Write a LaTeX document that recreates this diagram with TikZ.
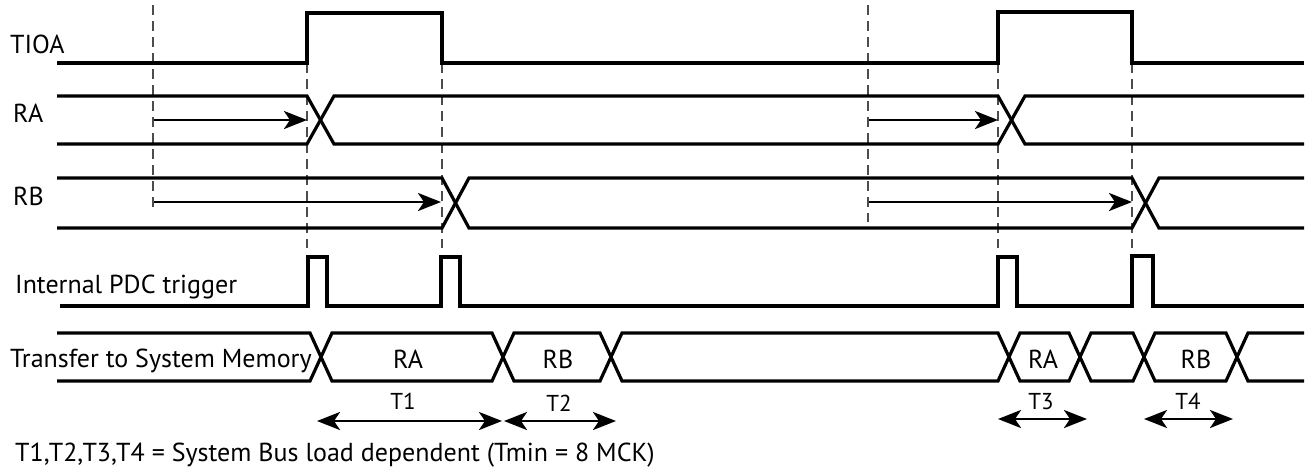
\documentclass[tikz,border=0pt]{standalone}
\usepackage{fontspec}
\setmainfont{PT Sans}
\usetikzlibrary{arrows.meta}
\begin{document}
\begin{tikzpicture}[x=1pt,y=-1pt,
  sig/.style={line width=3.2pt,line join=miter},
  guide/.style={line width=1.6pt,draw=black!70,dash pattern=on 10pt off 6pt},
  harrow/.style={line width=2.8pt,-{Stealth[length=23pt,width=18pt,inset=6pt]}},
  darrow/.style={line width=2.8pt,{Stealth[length=23pt,width=18pt,inset=6pt]}-{Stealth[length=23pt,width=18pt,inset=6pt]}},
  lbl/.style={font=\fontsize{26}{30}\selectfont,inner sep=0pt,anchor=base west},
  blbl/.style={font=\fontsize{26}{30}\selectfont,inner sep=0pt,anchor=base},
  tlbl/.style={font=\fontsize{23}{27}\selectfont,inner sep=0pt,anchor=base}]
\useasboundingbox (0,0) rectangle (1307,475);

% guide lines
\draw[guide] (153,5) -- (153,208);
\draw[guide] (868,5) -- (868,222);
\foreach \gx in {307,442,998,1132}{\draw[guide] (\gx,63) -- (\gx,248);}

% labels
\node[lbl] (lTIOA) at (10,53) {TIOA};
\node[lbl] (lRA) at (13,122) {RA};
\node[lbl] (lRB) at (13,205) {RB};
\node[lbl] (lPDC) at (15,293) {Internal PDC trigger};
\node[lbl] (lTR) at (10,367) {Transfer to System Memory};
\node[lbl] (lNote) at (15,461) {T1,T2,T3,T4 = System Bus load dependent (Tmin = 8 MCK)};

% TIOA
\draw[sig] (57,63) -- (307,63) -- (307,13) -- (442,13) -- (442,63) -- (998,63) -- (998,12) -- (1132,12) -- (1132,63) -- (1304,63);

% RA
\draw[sig] (57,96) -- (307,96) -- (334,144) -- (998,144) -- (1025,96) -- (1304,96);
\draw[sig] (57,144) -- (307,144) -- (334,96) -- (998,96) -- (1025,144) -- (1304,144);

% RB
\draw[sig] (57,178) -- (442,178) -- (469,228) -- (1132,228) -- (1159,178) -- (1304,178);
\draw[sig] (57,228) -- (442,228) -- (469,178) -- (1132,178) -- (1159,228) -- (1304,228);

% internal PDC trigger
\draw[sig] (60,306) -- (308,306) -- (308,257) -- (327,257) -- (327,306) -- (441,306) -- (441,257) -- (460,257) -- (460,306) -- (998,306) -- (998,257) -- (1017,257) -- (1017,306) -- (1132,306) -- (1132,256) -- (1153,256) -- (1153,306) -- (1304,306);

% transfer bus
\draw[sig] (57,333) -- (310,333) -- (332,381) -- (492,381) -- (514,333) -- (600,333) -- (622,381) -- (998,381) -- (1020,333) -- (1069,333) -- (1091,381) -- (1133,381) -- (1155,333) -- (1226,333) -- (1248,381) -- (1304,381);
\draw[sig] (57,381) -- (310,381) -- (332,333) -- (492,333) -- (514,381) -- (600,381) -- (622,333) -- (998,333) -- (1020,381) -- (1069,381) -- (1091,333) -- (1133,333) -- (1155,381) -- (1226,381) -- (1248,333) -- (1304,333);

\node[blbl] (bRA1) at (408,368) {RA};
\node[blbl] (bRB1) at (558,368) {RB};
\node[blbl] (bRA2) at (1043,368) {RA};
\node[blbl] (bRB2) at (1196,368) {RB};

% capture arrows
\coordinate (a1s) at (154,120); \coordinate (a1e) at (307,120);
\coordinate (a2s) at (154,202); \coordinate (a2e) at (441,202);
\coordinate (a3s) at (869,120); \coordinate (a3e) at (998,120);
\coordinate (a4s) at (869,202); \coordinate (a4e) at (1132,202);
\draw[harrow] (a1s) -- (a1e);
\draw[harrow] (a2s) -- (a2e);
\draw[harrow] (a3s) -- (a3e);
\draw[harrow] (a4s) -- (a4e);

% timing arrows
\coordinate (t1s) at (317,421); \coordinate (t1e) at (502,421);
\coordinate (t2s) at (504,421); \coordinate (t2e) at (616,421);
\coordinate (t3s) at (998,419); \coordinate (t3e) at (1087,419);
\coordinate (t4s) at (1144,419); \coordinate (t4e) at (1233,419);
\draw[darrow] (t1s) -- (t1e);
\draw[darrow] (t2s) -- (t2e);
\draw[darrow] (t3s) -- (t3e);
\draw[darrow] (t4s) -- (t4e);
\node[tlbl] (T1) at (403,409) {T1};
\node[tlbl] (T2) at (559,411) {T2};
\node[tlbl] (T3) at (1041,409) {T3};
\node[tlbl] (T4) at (1188,409) {T4};
\end{tikzpicture}
\end{document}
